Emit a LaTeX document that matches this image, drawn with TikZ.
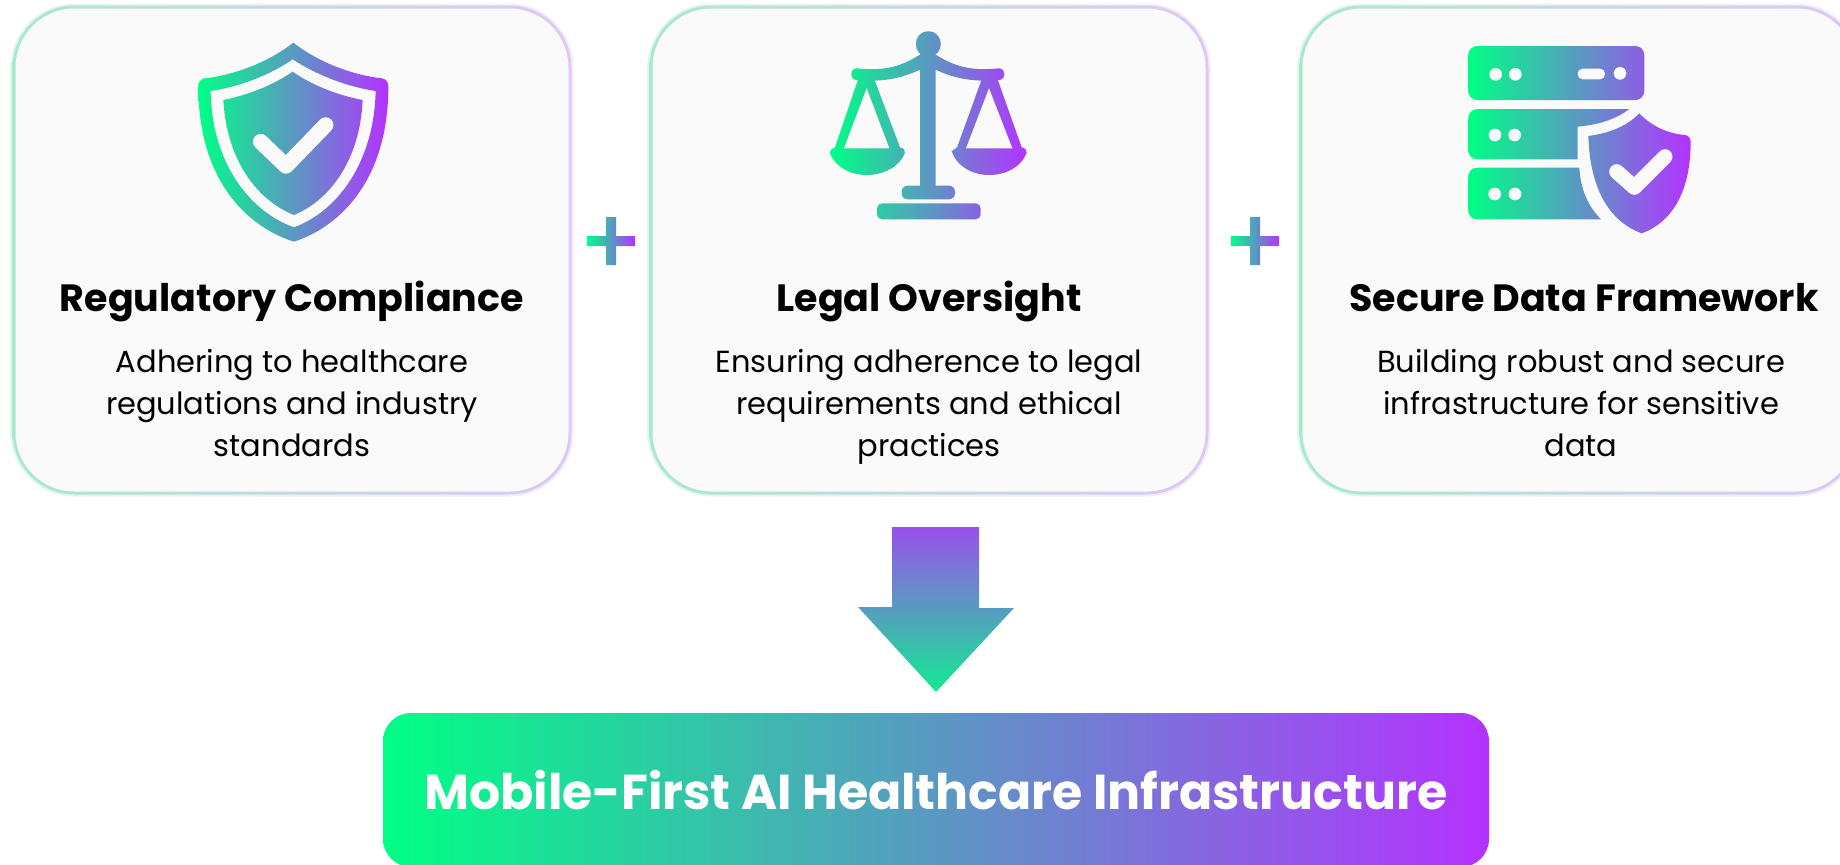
\documentclass[tikz,border=0pt]{standalone}
\usepackage{fontspec}
\setmainfont{Poppins}
\definecolor{gradStart}{RGB}{0,255,133}
\definecolor{gradEnd}{RGB}{180,50,255}
\definecolor{cardFace}{RGB}{250,250,250}
\definecolor{edgeStart}{RGB}{170,232,205}
\definecolor{edgeEnd}{RGB}{222,200,244}
\tikzset{
  x=1pt,y=-1pt,
  gradFill/.style={left color=gradStart,right color=gradEnd},
  cutOut/.style={fill=cardFace},
  tickLine/.style={draw=cardFace,line width=15.5pt,line cap=round,line join=round},
  cardGlow/.style={rectangle,rounded corners=64pt,minimum width=563pt,minimum height=493pt,left color=edgeStart,right color=edgeEnd,opacity=.35},
  cardEdge/.style={rectangle,rounded corners=62pt,minimum width=559pt,minimum height=489pt,left color=edgeStart,right color=edgeEnd},
  cardBody/.style={rectangle,rounded corners=59pt,minimum width=553pt,minimum height=483pt,fill=cardFace},
  cardTitle/.style={anchor=base,font=\fontsize{38}{42}\selectfont\bfseries,text=black},
  cardText/.style={anchor=base,font=\fontsize{30.5}{41.8}\selectfont,text=black,align=center},
  bottomBar/.style={rectangle,rounded corners=28pt,minimum width=1106pt,minimum height=154pt,gradFill,text=white,text height=46pt,text depth=8pt,font=\fontsize{49}{53}\selectfont\bfseries},
}
\begin{document}
\begin{tikzpicture}
    \pgfmathsetmacro{\cardTop}{250}
    \pgfmathsetmacro{\titleLine}{311}
    \pgfmathsetmacro{\textLine}{456}
    \useasboundingbox (0,0) rectangle (1840,865);

    % Cards
    \node[cardGlow] (regGlow) at (292,\cardTop) {};
    \node[cardEdge] (regEdge) at (regGlow) {};
    \node[cardBody] (regCard) at (regGlow) {};
    \node[cardGlow] (legalGlow) at (929,\cardTop) {};
    \node[cardEdge] (legalEdge) at (legalGlow) {};
    \node[cardBody] (legalCard) at (legalGlow) {};
    \node[cardGlow] (dataGlow) at (1579,\cardTop) {};
    \node[cardEdge] (dataEdge) at (dataGlow) {};
    \node[cardBody] (dataCard) at (dataGlow) {};

    % Titles and texts
    \node[cardTitle] (regTitle) at (292,\titleLine) {Regulatory Compliance};
    \node[cardText] (regText) at (292,\textLine) {Adhering to healthcare\\regulations and industry\\standards};
    \node[cardTitle] (legalTitle) at (929,\titleLine) {Legal Oversight};
    \node[cardText] (legalText) at (929,\textLine) {Ensuring adherence to legal\\requirements and ethical\\practices};
    \node[cardTitle] (dataTitle) at (1584,\titleLine) {Secure Data Framework};
    \node[cardText] (dataText) at (1581,\textLine) {Building robust and secure\\infrastructure for sensitive\\data};

    % Shield icon
    \begin{scope}[shift={(170,20)},scale=1/3]
      \path[gradFill,even odd rule]
        (370,68) .. controls (290,130) and (190,165) .. (105,175) .. controls (92,177) and (85,185) .. (85,200)
        .. controls (85,480) and (230,620) .. (372,665) .. controls (510,620) and (655,480) .. (655,200)
        .. controls (655,185) and (648,177) .. (635,175) .. controls (550,165) and (450,130) .. (370,68) -- cycle
        (368,118) .. controls (300,165) and (210,200) .. (122,213) .. controls (125,430) and (240,575) .. (372,622)
        .. controls (500,575) and (612,430) .. (617,213) .. controls (530,200) and (440,165) .. (368,118) -- cycle
        (368,155) .. controls (310,195) and (235,225) .. (160,240) .. controls (170,420) and (260,540) .. (372,585)
        .. controls (480,540) and (570,420) .. (578,240) .. controls (500,225) and (425,195) .. (368,155) -- cycle;
      \draw[tickLine] (272,365) -- (348,438) -- (467,315);
    \end{scope}

    % Scales icon
    \begin{scope}[shift={(800,20)},scale=1/3]
      \path[gradFill]
        (385,34) .. controls (435,34) and (435,110) .. (385,110) .. controls (335,110) and (335,34) .. (385,34) -- cycle
        (170,145) .. controls (260,155) and (310,135) .. (358,105) -- (409,105) .. controls (457,135) and (507,155) .. (597,145)
        .. controls (619,145) and (619,180) .. (597,180) .. controls (510,188) and (450,170) .. (405,148) -- (362,148)
        .. controls (315,170) and (260,188) .. (170,180) .. controls (148,180) and (148,145) .. (170,145) -- cycle
        (360,80) -- (407,80) -- (407,500) -- (360,500) -- cycle
        (177,170) -- (220,170) -- (300,382) .. controls (310,384) and (316,390) .. (315,398)
        .. controls (300,440) and (250,465) .. (200,465) .. controls (150,465) and (105,440) .. (90,400)
        .. controls (90,390) and (96,384) .. (105,382) -- cycle
        (548,170) -- (590,170) -- (665,382) .. controls (675,384) and (681,390) .. (680,398)
        .. controls (665,440) and (618,465) .. (568,465) .. controls (518,465) and (470,440) .. (455,393)
        .. controls (462,390) and (468,386) .. (472,380) -- cycle
        [rounded corners=6pt] (305,497) -- (465,497) -- (465,538) -- (305,538) -- cycle
        [rounded corners=5pt] (231,550) -- (542,550) -- (542,598) -- (231,598) -- cycle;
      \fill[cutOut] (200,205) -- (268,385) -- (132,385) -- cycle;
      \fill[cutOut] (567,205) -- (637,385) -- (498,385) -- cycle;
    \end{scope}

    % Server icon
    \begin{scope}[shift={(1440,30)},scale=1/3]
      \path[gradFill]
        [rounded corners=9pt] (85,48) -- (613,48) -- (613,210) -- (85,210) -- cycle
        [sharp corners] (85,268) .. controls (85,248) and (95,237) .. (115,237) -- (568,237)
        .. controls (525,270) and (470,285) .. (413,290) -- (413,388) -- (115,388)
        .. controls (95,388) and (85,378) .. (85,358) -- cycle
        (85,443) .. controls (85,423) and (95,413) .. (115,413) -- (418,413)
        .. controls (422,480) and (445,530) .. (483,568) -- (115,568)
        .. controls (95,568) and (85,558) .. (85,538) -- cycle
        (598,250) .. controls (640,295) and (695,312) .. (735,315) .. controls (745,316) and (752,325) .. (752,335)
        .. controls (752,480) and (700,575) .. (605,610) .. controls (510,575) and (450,480) .. (445,318)
        .. controls (505,310) and (560,290) .. (598,250) -- cycle;
      \fill[cutOut] (167,133) circle[radius=19] (226,133) circle[radius=19] (540,130) circle[radius=19];
      \fill[cutOut] (165,315) circle[radius=19] (224,315) circle[radius=19];
      \fill[cutOut] (164,492) circle[radius=19] (225,492) circle[radius=19];
      \fill[cutOut,rounded corners=5pt] (413,116) rectangle (495,148);
      \draw[tickLine,line width=15pt] (530,425) -- (583,472) -- (675,380);
    \end{scope}

    % Plus signs
    \path[gradFill] (587,236) -- (606,236) -- (606,217) -- (616,217) -- (616,236) -- (635,236)
      -- (635,246) -- (616,246) -- (616,265) -- (606,265) -- (606,246) -- (587,246) -- cycle;
    \path[gradFill] (1231,236) -- (1250,236) -- (1250,217) -- (1260,217) -- (1260,236) -- (1279,236)
      -- (1279,246) -- (1260,246) -- (1260,265) -- (1250,265) -- (1250,246) -- (1231,246) -- cycle;

    % Down arrow
    \path[top color=gradEnd!85!gradStart,bottom color=gradStart!90!gradEnd] (892,527) -- (979,527) -- (979,608) -- (1014,608)
      -- (936,692) -- (858,607) -- (892,607) -- cycle;

    % Result bar
    \node[bottomBar] (resultBar) at (936,790) {Mobile-First AI Healthcare Infrastructure};
\end{tikzpicture}
\end{document}
